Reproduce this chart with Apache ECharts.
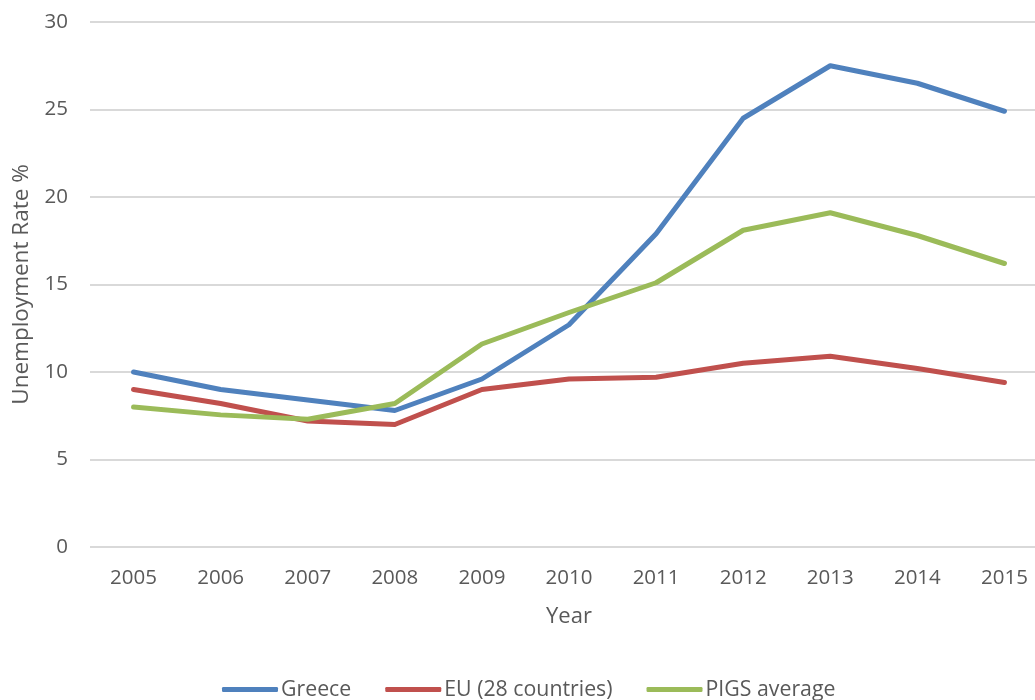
<!DOCTYPE html>
<html><head><meta charset="utf-8">
<script src="https://cdn.jsdelivr.net/npm/echarts@6/dist/echarts.min.js"></script>
<style>html,body{margin:0;padding:0;background:#fff}#c{width:1035px;height:700px}</style>
</head><body><div id="c"></div>
<script>
const years = ['2005','2006','2007','2008','2009','2010','2011','2012','2013','2014','2015'];
const greece = [10.0, 9.0, 8.4, 7.8, 9.6, 12.7, 17.9, 24.5, 27.5, 26.5, 24.9];
const eu28 = [9.0, 8.2, 7.2, 7.0, 9.0, 9.6, 9.7, 10.5, 10.9, 10.2, 9.4];
const pigs = [8.0, 7.55, 7.3, 8.2, 11.6, 13.4, 15.1, 18.1, 19.1, 17.8, 16.2];
const seriesNames = ['Greece', 'EU (28 countries)', 'PIGS average'];
const colors = ['#4F81BD', '#C0504D', '#9BBB59'];

const font = 'Open Sans';
const chart = echarts.init(document.getElementById('c'), null, {renderer: 'canvas'});
const mk = (name, data, color) => ({
  name, type: 'line', data, symbol: 'none', smooth: false,
  lineStyle: {width: 5, color, cap: 'round', join: 'round'},
  itemStyle: {color}
});
chart.setOption({
  animation: false,
  textStyle: {fontFamily: font},
  grid: {left: 90, right: -13, top: 22, bottom: 153, containLabel: false, outerBoundsMode: 'none'},
  legend: {
    top: 679, left: 222, padding: 0,
    itemWidth: 56, itemHeight: 5, itemGap: 34,
    icon: 'roundRect',
    textStyle: {fontFamily: font, fontSize: 21.3, color: '#595959', padding: [0,0,0,-2]},
    data: seriesNames
  },
  xAxis: {
    type: 'category', data: years, boundaryGap: true,
    name: 'Year', nameLocation: 'middle', nameGap: 59,
    nameTextStyle: {fontFamily: font, fontSize: 22, color: '#595959'},
    axisLine: {show: false}, axisTick: {show: false},
    axisLabel: {fontFamily: font, fontSize: 20.5, color: '#595959', margin: 21}
  },
  yAxis: {
    type: 'value', min: 0, max: 30, interval: 5,
    name: 'Unemployment Rate %', nameLocation: 'middle', nameGap: 57,
    nameTextStyle: {fontFamily: font, fontSize: 22.5, color: '#595959'},
    axisLine: {show: false}, axisTick: {show: false},
    axisLabel: {fontFamily: font, fontSize: 20.5, color: '#595959', margin: 22},
    splitLine: {lineStyle: {color: '#D9D9D9', width: 2}}
  },
  series: [mk(seriesNames[0], greece, colors[0]), mk(seriesNames[1], eu28, colors[1]), mk(seriesNames[2], pigs, colors[2])]
});
</script></body></html>
